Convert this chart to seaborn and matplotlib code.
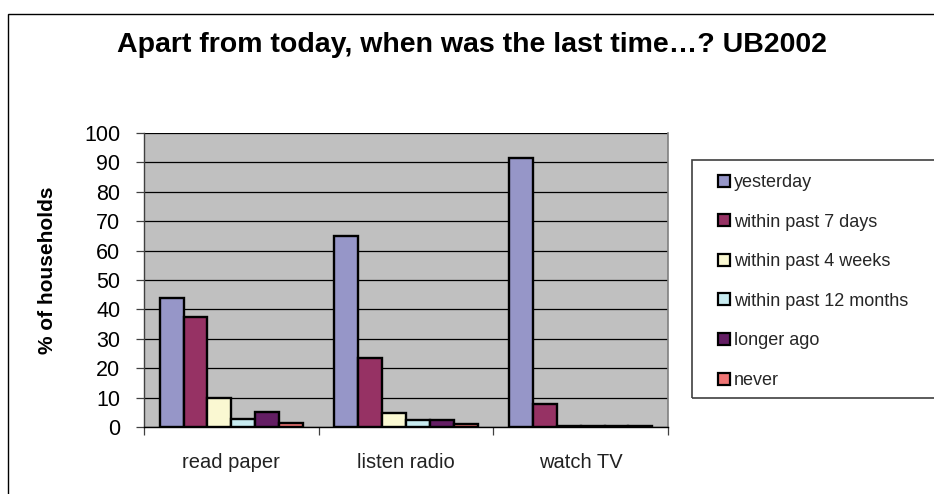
import matplotlib
matplotlib.use("Agg")
import matplotlib.pyplot as plt
import matplotlib.patches as mpatches
import seaborn as sns
import pandas as pd
import numpy as np

# ---- data ----
categories = ["read paper", "listen radio", "watch TV"]
series_names = ["yesterday", "within past 7 days", "within past 4 weeks",
                "within past 12 months", "longer ago", "never"]
yesterday = [43.8, 65.0, 91.5]
past_7_days = [37.4, 23.4, 7.8]
past_4_weeks = [9.9, 4.7, 0.3]
past_12_months = [2.6, 2.4, 0.2]
longer_ago = [5.1, 2.5, 0.3]
never = [1.2, 1.0, 0.2]
colors = ["#9696C8", "#963264", "#FAF8D2", "#C8EBF0", "#641E64", "#EE7474"]
yticks = list(range(0, 101, 10))

series_values = [yesterday, past_7_days, past_4_weeks, past_12_months, longer_ago, never]
rows = []
for name, vals in zip(series_names, series_values):
    for cat, v in zip(categories, vals):
        rows.append({"activity": cat, "when": name, "pct": v})
df = pd.DataFrame(rows)

sns.set_theme(style="white")
plt.rcParams["font.family"] = ["Liberation Sans", "DejaVu Sans"]

W, H = 934, 494
fig = plt.figure(figsize=(W / 100, H / 100), dpi=100)
fig.patch.set_facecolor("white")
ax = fig.add_axes([144 / W, 1 - 427 / H, (668 - 144) / W, (427 - 133) / H])
ax.set_facecolor("#C0C0C0")

sns.barplot(data=df, x="activity", y="pct", hue="when", order=categories,
            hue_order=series_names, palette=colors, saturation=1,
            width=0.82, edgecolor="black", linewidth=1.7, ax=ax, zorder=3)

handles, labels = ax.get_legend_handles_labels()
if ax.get_legend() is not None:
    ax.get_legend().remove()

ax.set_ylim(0, 100)
ax.set_xlim(-0.5, 2.5)
ax.set_yticks(yticks)
ax.set_yticklabels([str(t) for t in yticks], fontsize=15.5, color="black")
ax.yaxis.grid(True, color="black", linewidth=0.9, zorder=1)
ax.xaxis.grid(False)
ax.set_axisbelow(True)

ax.tick_params(axis="y", which="major", left=True, length=6, width=0.9,
               color="#404040", pad=11, direction="out")
ax.tick_params(axis="x", which="major", length=0, pad=19, labelsize=14.5,
               labelcolor="#222222")
ax.set_xticks(np.arange(-0.5, 2.6, 1.0), minor=True)
ax.tick_params(axis="x", which="minor", bottom=True, length=6, width=0.9,
               color="#404040", direction="out")

for side in ["left", "bottom", "right", "top"]:
    ax.spines[side].set_visible(True)
ax.spines["left"].set_color("#404040")
ax.spines["left"].set_linewidth(1.0)
ax.spines["bottom"].set_color("black")
ax.spines["bottom"].set_linewidth(1.0)
ax.spines["right"].set_color("#808080")
ax.spines["right"].set_linewidth(1.2)
ax.spines["top"].set_visible(False)

ax.set_xlabel("")
ax.set_ylabel("% of households", fontsize=15, fontweight="bold", color="black")
ax.yaxis.set_label_coords((57 - 144) / (668 - 144), (427 - 270) / (427 - 133))

fig.text(472 / W, 1 - 45 / H, "Apart from today, when was the last time\u2026? UB2002",
         ha="center", va="center", fontsize=20.5, fontweight="bold", color="black")

# legend
leg = fig.legend(handles, labels, loc="upper left",
                 bbox_to_anchor=(709 / W, 1 - 165 / H), frameon=False,
                 fontsize=13, handlelength=0.65, handleheight=0.65,
                 handletextpad=0.25, labelspacing=1.25, borderpad=0)
for h in leg.legend_handles:
    h.set_edgecolor("black")
    h.set_linewidth(1.6)

# legend box and figure border
fig.patches.append(mpatches.Rectangle((692 / W, 1 - 398 / H), 0.5, (398 - 160) / H,
                                      transform=fig.transFigure, fill=False,
                                      edgecolor="#404040", linewidth=1.2))
fig.patches.append(mpatches.Rectangle((8 / W, -0.2), 1.2, 1.2 - 14 / H,
                                      transform=fig.transFigure, fill=False,
                                      edgecolor="black", linewidth=1.0))

fig.savefig("out.png", dpi=100)
